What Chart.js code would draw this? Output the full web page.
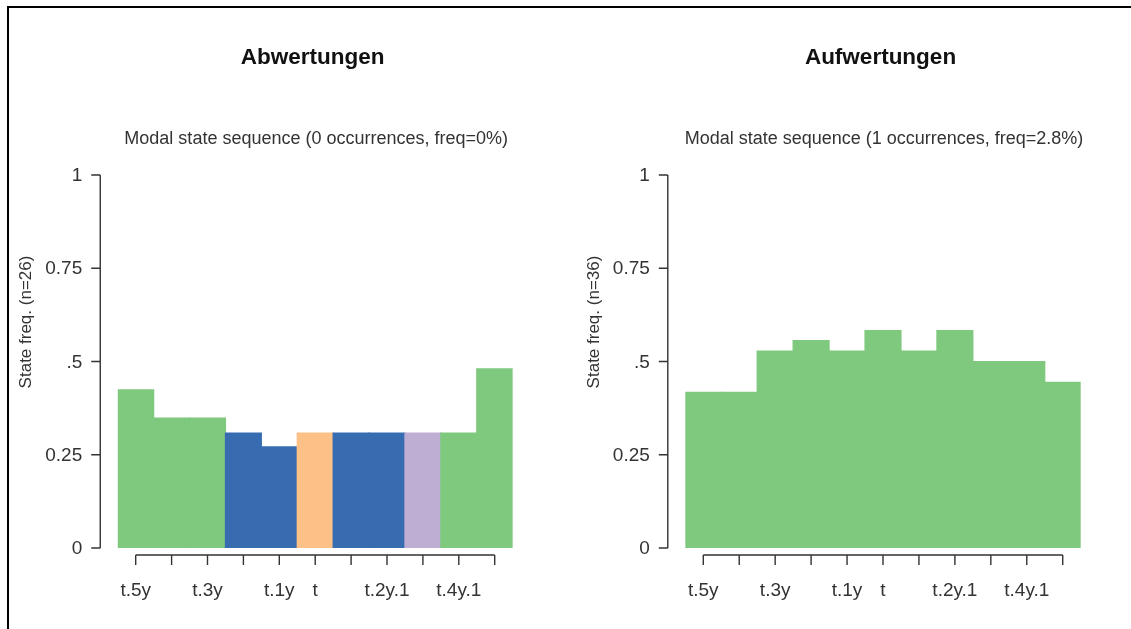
<!DOCTYPE html>
<html>
<head>
<meta charset="utf-8">
<script src="https://cdn.jsdelivr.net/npm/chart.js@4.4.1/dist/chart.umd.min.js"></script>
<style>
  html, body { margin: 0; padding: 0; background: #fff; overflow: hidden; }
  body { width: 1131px; height: 629px; position: relative; }
  .frame { position: absolute; left: 7px; top: 6px; width: 1200px; height: 700px;
           border-top: 2px solid #000; border-left: 2px solid #000; }
  canvas { position: absolute; top: 0; }
  #abw { left: 0; }
  #auf { left: 565px; }
</style>
</head>
<body>
<div class="frame"></div>
<canvas id="abw" width="565" height="629"></canvas>
<canvas id="auf" width="566" height="629"></canvas>
<script>
// Zeitpunkte (Kategorien) und die Beschriftungen, die R tatsächlich zeigt
const categories = ['t.5y', 't.4y', 't.3y', 't.2y', 't.1y', 't', 't.1y.1', 't.2y.1', 't.3y.1', 't.4y.1', 't.5y.1'];
const shownLabels = ['t.5y', 't.3y', 't.1y', 't', 't.2y.1', 't.4y.1'];

// y-Achse
const yTickValues = [0, 0.25, 0.5, 0.75, 1];
const yTickLabels = ['0', '0.25', '.5', '0.75', '1'];

// Zustandsfarben (Accent-Palette)
const stateColors = ['#7FC97F', '#386CB0', '#FDC086', '#BEAED4'];

// Abwertungen: Häufigkeit des modalen Zustands + welcher Zustand
const abwValues = [0.424, 0.348, 0.348, 0.308, 0.271, 0.308, 0.308, 0.308, 0.308, 0.308, 0.480];
const abwStates = [0, 0, 0, 1, 1, 2, 1, 1, 3, 0, 0];

// Aufwertungen
const aufValues = [0.417, 0.417, 0.528, 0.556, 0.528, 0.583, 0.528, 0.583, 0.500, 0.500, 0.444];
const aufStates = [0, 0, 0, 0, 0, 0, 0, 0, 0, 0, 0];

const FONT = '"Liberation Sans", Arial, sans-serif';

// Achsen im R-Stil (abgesetzt vom Plotbereich) über die Chart.js-Skalen zeichnen
const rAxesPlugin = {
    id: 'rAxes',
    afterDraw(chart, args, opts) {
        const ctx = chart.ctx;
        const area = chart.chartArea;
        const xs = chart.scales.x;
        const ys = chart.scales.y;
        ctx.save();
        ctx.strokeStyle = '#333';
        ctx.fillStyle = '#333';
        ctx.lineWidth = 1.4;

        // y-Achse
        const ax = area.left - 17.5;
        const y0 = ys.getPixelForValue(yTickValues[0]);
        const y1 = ys.getPixelForValue(yTickValues[yTickValues.length - 1]);
        ctx.beginPath();
        ctx.moveTo(ax, y0);
        ctx.lineTo(ax, y1);
        yTickValues.forEach(v => {
            const py = ys.getPixelForValue(v);
            ctx.moveTo(ax, py);
            ctx.lineTo(ax - 9, py);
        });
        ctx.stroke();
        ctx.font = '19px ' + FONT;
        ctx.textAlign = 'right';
        ctx.textBaseline = 'middle';
        yTickValues.forEach((v, i) => {
            ctx.fillText(yTickLabels[i], ax - 18, ys.getPixelForValue(v) + 1);
        });

        // x-Achse
        const by = area.bottom + 7;
        const xFirst = xs.getPixelForValue(0);
        const xLast = xs.getPixelForValue(categories.length - 1);
        ctx.beginPath();
        ctx.moveTo(xFirst, by);
        ctx.lineTo(xLast, by);
        categories.forEach((c, i) => {
            const px = xs.getPixelForValue(i);
            ctx.moveTo(px, by);
            ctx.lineTo(px, by + 10);
        });
        ctx.stroke();
        ctx.textAlign = 'center';
        categories.forEach((c, i) => {
            if (shownLabels.includes(c)) {
                ctx.fillText(c, xs.getPixelForValue(i), by + 36);
            }
        });

        // y-Achsentitel
        ctx.save();
        ctx.translate(opts.yTitleX, 322);
        ctx.rotate(-Math.PI / 2);
        ctx.font = '17px ' + FONT;
        ctx.fillText(opts.yTitle, 0, 0);
        ctx.restore();

        // Titel und Untertitel
        const cx = (area.left + area.right) / 2;
        ctx.fillStyle = '#111';
        ctx.font = 'bold 22.5px ' + FONT;
        ctx.fillText(opts.title, cx - 2.5, 58);
        ctx.fillStyle = '#333';
        ctx.font = '18px ' + FONT;
        ctx.fillText(opts.subtitle, cx + 1, 139);
        ctx.restore();
    }
};

function makePanel(canvasId, values, states, padding, texts) {
    const ctx = document.getElementById(canvasId).getContext('2d');
    return new Chart(ctx, {
        type: 'bar',
        data: {
            labels: categories,
            datasets: [{
                data: values,
                backgroundColor: states.map(s => stateColors[s]),
                borderWidth: 0,
                inflateAmount: 0.6,
                barPercentage: 1,
                categoryPercentage: 1
            }]
        },
        options: {
            responsive: false,
            animation: false,
            layout: { padding: padding },
            plugins: {
                legend: { display: false },
                tooltip: { enabled: false },
                rAxes: texts
            },
            scales: {
                x: { display: false, offset: true },
                y: { display: false, min: 0, max: 1 }
            }
        },
        plugins: [rAxesPlugin]
    });
}

makePanel('abw', abwValues, abwStates,
    { left: 117.75, right: 52.35, top: 175, bottom: 81 },
    { title: 'Abwertungen', subtitle: 'Modal state sequence (0 occurrences, freq=0%)',
      yTitle: 'State freq. (n=26)', yTitleX: 26 });

makePanel('auf', aufValues, aufStates,
    { left: 120.3, right: 50.3, top: 175, bottom: 81 },
    { title: 'Aufwertungen', subtitle: 'Modal state sequence (1 occurrences, freq=2.8%)',
      yTitle: 'State freq. (n=36)', yTitleX: 29 });
</script>
</body>
</html>
